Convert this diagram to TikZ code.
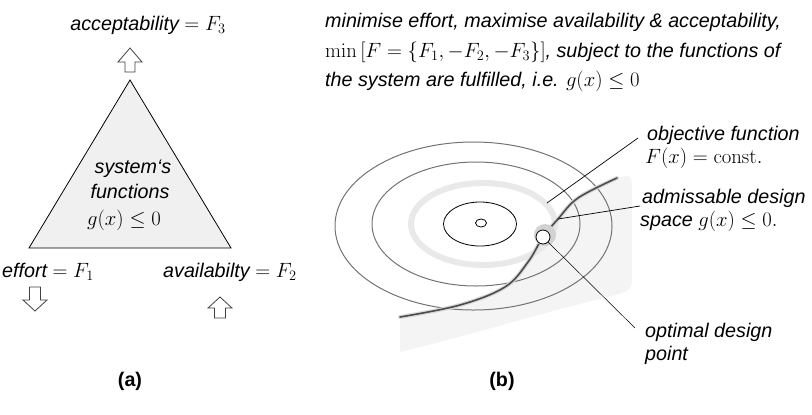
\documentclass[tikz,border=0pt]{standalone}
\usepackage[no-math]{fontspec}
\setmainfont{Liberation Sans}
\begin{document}
\begin{tikzpicture}[x=1bp,y=-1bp,
  txt/.style={font=\fontsize{19.8}{26}\selectfont\itshape, inner sep=0pt},
  captxt/.style={font=\fontsize{19.8}{26}\selectfont\bfseries, inner sep=0pt},
  blockarrow/.style={draw=black!75, fill=white, line width=0.8bp, line join=miter},
  leader/.style={draw=black, line width=0.7bp},
  contour/.style={draw=black!55, line width=1bp},
  level/.style={draw=black, line width=0.8bp}]
\useasboundingbox (0,0) rectangle (812,414);

% ---------------- (a) ----------------
\node[txt, anchor=base] (acc) at (148,30) {acceptability $=F_3$};
\draw[blockarrow] (130,48) -- (142,62) -- (135,62) -- (135,72) -- (125,72) -- (125,62) -- (118,62) -- cycle;

\draw[fill=gray!12, line width=0.8bp, line join=miter] (130,80) -- (231,248) -- (29,248) -- cycle;
\node[txt, anchor=base] (sys1) at (133,173) {system‘s};
\node[txt, anchor=base] (sys2) at (130,198) {functions};
\node[txt, anchor=base] (sys3) at (124,225) {$g(x)\leq 0$};

\node[txt, anchor=base west] (eff) at (2,277) {effort $=F_1$};
\draw[blockarrow] (35,311) -- (47,300) -- (40.5,300) -- (40.5,287) -- (29.5,287) -- (29.5,300) -- (23,300) -- cycle;

\node[txt, anchor=base west] (avl) at (163,277) {availabilty $=F_2$};
\draw[blockarrow] (220,297) -- (232,308) -- (225.5,308) -- (225.5,318) -- (214.5,318) -- (214.5,308) -- (208,308) -- cycle;

\node[captxt, anchor=base] (capa) at (130,386) {(a)};

% ---------------- (b) ----------------
\node[txt, anchor=base west] (l1) at (325,27) {minimise effort, maximise availability \& acceptability,};
\node[txt, anchor=base west] (l2) at (325,57) {$\min\,[F=\{F_1,-F_2,-F_3\}]$, subject to the functions of};
\node[txt, anchor=base west] (l3) at (325,86) {the system are fulfilled, i.e. $g(x)\leq 0$};

% shaded admissible region
\fill[gray!9] plot[smooth, tension=0.6] coordinates {(400,317) (460,305) (505,287) (528,262) (543,237) (558,219) (578,198) (617,178)}
  -- (626,176) .. controls (631,176) and (632,180) .. (632,186)
  -- (632,280) .. controls (632,290) and (626,292) .. (615,295)
  .. controls (530,316) and (460,338) .. (400,352) -- cycle;

% light ring
\draw[gray!17, line width=6bp] (483,224) ellipse [x radius=72bp, y radius=41bp];

% contour lines
\draw[contour] (473.5,226) ellipse [x radius=138.5bp, y radius=84bp];
\draw[contour] (476,224) ellipse [x radius=104bp, y radius=62bp];
\draw[level] (480,224) ellipse [x radius=36.5bp, y radius=22bp];
\draw[level] (481,223) ellipse [x radius=5.5bp, y radius=4bp];

% constraint curve
\draw[gray!30, line width=4bp, line cap=round] plot[smooth, tension=0.6] coordinates {(400,317) (460,305) (505,287) (528,262) (543,237) (558,219) (578,198) (617,178)};
\draw[black!70, line width=1.6bp, line cap=round] plot[smooth, tension=0.6] coordinates {(400,317) (460,305) (505,287) (528,262) (543,237) (558,219) (578,198) (617,178)};

% optimal point with halo
\fill[gray!35] (545,235) circle [radius=11bp];
\node[circle, draw, fill=white, minimum size=14bp, inner sep=0pt, line width=0.8bp] (opt) at (543,237) {};

% labels
\node[txt, anchor=base west] (obj1) at (647,140) {objective function};
\node[txt, anchor=base west] (obj2) at (645,163) {$F(x)=\mathrm{const.}$};
\node[txt, anchor=base west] (adm1) at (642,203) {admissable design};
\node[txt, anchor=base west] (adm2) at (640,226) {space $g(x)\leq 0.$};
\node[txt, anchor=base west] (opl1) at (645,337) {optimal design};
\node[txt, anchor=base west] (opl2) at (645,360) {point};

\coordinate (objpt) at (547,203);
\coordinate (admpt) at (558,219);
\draw[leader] (objpt) -- ([shift={(-9,-2)}]obj1.base west);
\draw[leader] (admpt) -- ([shift={(-2,3)}]adm1.base west);
\draw[leader, line width=0.5bp] (opt.-45) -- ([shift={(-10,-9)}]opl1.base west);

\node[captxt, anchor=base] (capb) at (502,386) {(b)};
\end{tikzpicture}
\end{document}
